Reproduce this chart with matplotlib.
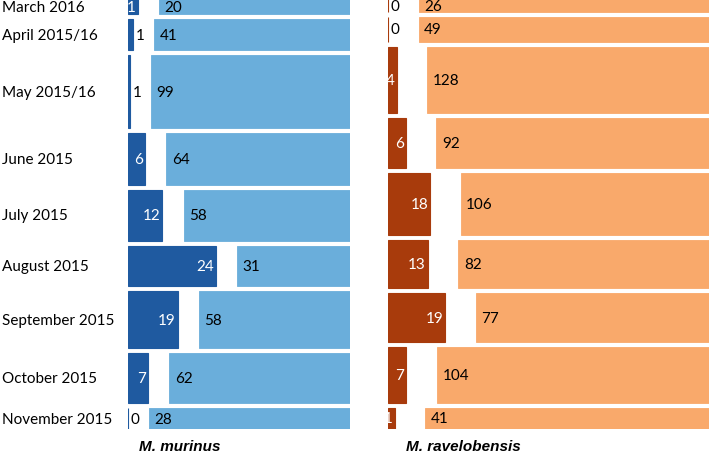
import numpy as np
import matplotlib.pyplot as plt
from matplotlib.transforms import blended_transform_factory

months = ["March 2016", "April 2015/16", "May 2015/16", "June 2015", "July 2015",
          "August 2015", "September 2015", "October 2015", "November 2015"]

# M. murinus: dark = first count, light = second count
mur_dark = [1, 1, 1, 6, 12, 24, 19, 7, 0]
mur_light = [20, 41, 99, 64, 58, 31, 58, 62, 28]
# M. ravelobensis
rav_dark = [0, 0, 4, 6, 18, 13, 19, 7, 1]
rav_light = [26, 49, 128, 92, 106, 82, 77, 104, 41]

plt.rcParams['font.family'] = ['Lato', 'DejaVu Sans']

fig = plt.figure(figsize=(7.09, 4.56), dpi=100)
W, H = 709, 456

GAPX = 0.105   # gap between dark and light bar, as fraction of row width
GAPY = 5 / 430 # gap between rows
FS = 11


def panel(rect, dark, light, c_dark, c_light):
    ax = fig.add_axes(rect)
    dark = np.array(dark, float)
    light = np.array(light, float)
    tot = dark + light
    n = len(tot)
    h = (1 - (n - 1) * GAPY) * tot / tot.sum()
    tops = 1 - np.concatenate([[0], np.cumsum(h[:-1] + GAPY)])
    yc = tops - h / 2
    f = dark / tot
    ax.barh(yc, f, height=h, left=0, color=c_dark, edgecolor=c_dark, linewidth=0.8)
    ax.barh(yc, 1 - f, height=h, left=f + GAPX, color=c_light, edgecolor=c_light,
            linewidth=0.6)
    ax.set_xlim(0, 1 + GAPX)
    ax.set_ylim(0, 1)
    ax.axis('off')
    wpx = rect[2] * W / (1 + GAPX)
    for i in range(n):
        if f[i] * wpx >= 6.5:
            ax.annotate(f"{int(dark[i])}", (f[i], yc[i]), xytext=(-1.5, 0),
                        textcoords='offset points', ha='right', va='center',
                        color='white', fontsize=FS)
        else:
            ax.annotate(f"{int(dark[i])}", (f[i], yc[i]), xytext=(2, 0),
                        textcoords='offset points', ha='left', va='center',
                        color='black', fontsize=FS)
        ax.annotate(f"{int(light[i])}", (f[i] + GAPX, yc[i]), xytext=(4, 0),
                    textcoords='offset points', ha='left', va='center',
                    color='black', fontsize=FS)
    return ax, yc


bottom = 26 / H
ax1, yc1 = panel([128 / W, bottom, 222 / W, 1 - bottom], mur_dark, mur_light,
                 '#1f5aa0', '#6aaedb')
ax2, yc2 = panel([388 / W, bottom, 321 / W, 1 - bottom], rav_dark, rav_light,
                 '#a83b0c', '#f9a96b')

tr = blended_transform_factory(fig.transFigure, ax1.transData)
for m, y in zip(months, yc1):
    fig.text(2 / W, y, m, transform=tr, ha='left', va='center', fontsize=FS)

fig.text(180 / W, 1 - 447 / H, "M. murinus", ha='center', va='center',
         fontsize=11, fontweight='bold', fontstyle='italic', family='Liberation Sans')
fig.text(463 / W, 1 - 447 / H, "M. ravelobensis", ha='center', va='center',
         fontsize=11, fontweight='bold', fontstyle='italic', family='Liberation Sans')

fig.savefig("out.png", dpi=100)
